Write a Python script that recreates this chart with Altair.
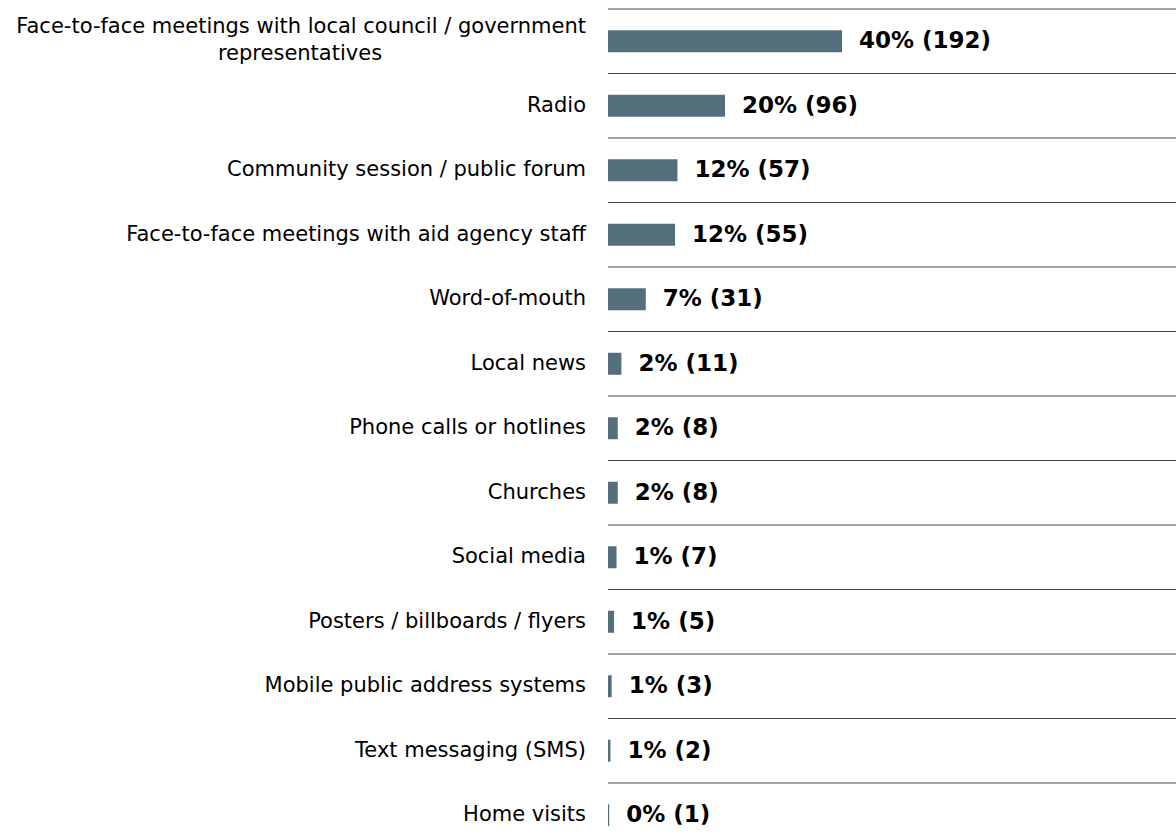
import altair as alt
import pandas as pd

categories = [
    "Face-to-face meetings with local council / government",
    "Radio",
    "Community session / public forum",
    "Face-to-face meetings with aid agency staff",
    "Word-of-mouth",
    "Local news",
    "Phone calls or hotlines",
    "Churches",
    "Social media",
    "Posters / billboards / flyers",
    "Mobile public address systems",
    "Text messaging (SMS)",
    "Home visits",
]
first_label_line2 = "representatives"
counts = [192, 96, 57, 55, 31, 11, 8, 8, 7, 5, 3, 2, 1]
value_labels = [
    "40% (192)", "20% (96)", "12% (57)", "12% (55)", "7% (31)", "2% (11)",
    "2% (8)", "2% (8)", "1% (7)", "1% (5)", "1% (3)", "1% (2)", "0% (1)",
]

df = pd.DataFrame({"cat": categories, "count": counts, "vlab": value_labels})
df["idx"] = range(len(df))

W, H = 568, 838
FONT = "DejaVu Sans"
BAR = "#546f7c"
LFS = 21
VFS = 23

yscale = alt.Scale(domain=categories, range=[9, 847.5], paddingInner=0, paddingOuter=0)
xscale = alt.Scale(domain=[0, 466], nice=False, zero=True)

base = alt.Chart(df)

grid = base.mark_rule(color="#444444", strokeWidth=1).encode(
    y=alt.Y("cat:N", scale=yscale, axis=None, bandPosition=0),
    x=alt.value(0),
    x2=alt.value(W),
)

bars = base.mark_bar(size=22, color=BAR).encode(
    y=alt.Y("cat:N", scale=yscale, axis=None),
    x=alt.X("count:Q", scale=xscale, axis=None),
)

vals = base.mark_text(align="left", baseline="middle", dx=17, fontWeight="bold",
                      fontSize=VFS, font=FONT, color="#000000").encode(
    y=alt.Y("cat:N", scale=yscale, axis=None),
    x=alt.X("count:Q", scale=xscale, axis=None),
    text="vlab:N",
)

labels_rest = base.transform_filter("datum.idx > 0").mark_text(
    align="right", baseline="middle", fontSize=LFS, font=FONT, color="#000000"
).encode(
    y=alt.Y("cat:N", scale=yscale, axis=None),
    x=alt.value(-22),
    text="cat:N",
)

label_first1 = base.transform_filter("datum.idx == 0").mark_text(
    align="right", baseline="middle", fontSize=LFS, font=FONT, color="#000000", dy=-14
).encode(
    y=alt.Y("cat:N", scale=yscale, axis=None),
    x=alt.value(-22),
    text="cat:N",
)

df2 = pd.DataFrame({"cat": [categories[0]], "t": [first_label_line2]})
label_first2 = alt.Chart(df2).mark_text(
    align="center", baseline="middle", fontSize=LFS, font=FONT, color="#000000", dy=13
).encode(
    y=alt.Y("cat:N", scale=yscale, axis=None),
    x=alt.value(-308),
    text="t:N",
)

chart = alt.layer(grid, bars, vals, labels_rest, label_first1, label_first2).properties(
    width=W, height=H,
    autosize=alt.AutoSizeParams(type="none"),
    padding={"left": 608, "top": 0, "right": 0, "bottom": 0},
).configure_view(stroke=None)

chart.save("out.html", embed_options={"renderer": "svg", "actions": False})
